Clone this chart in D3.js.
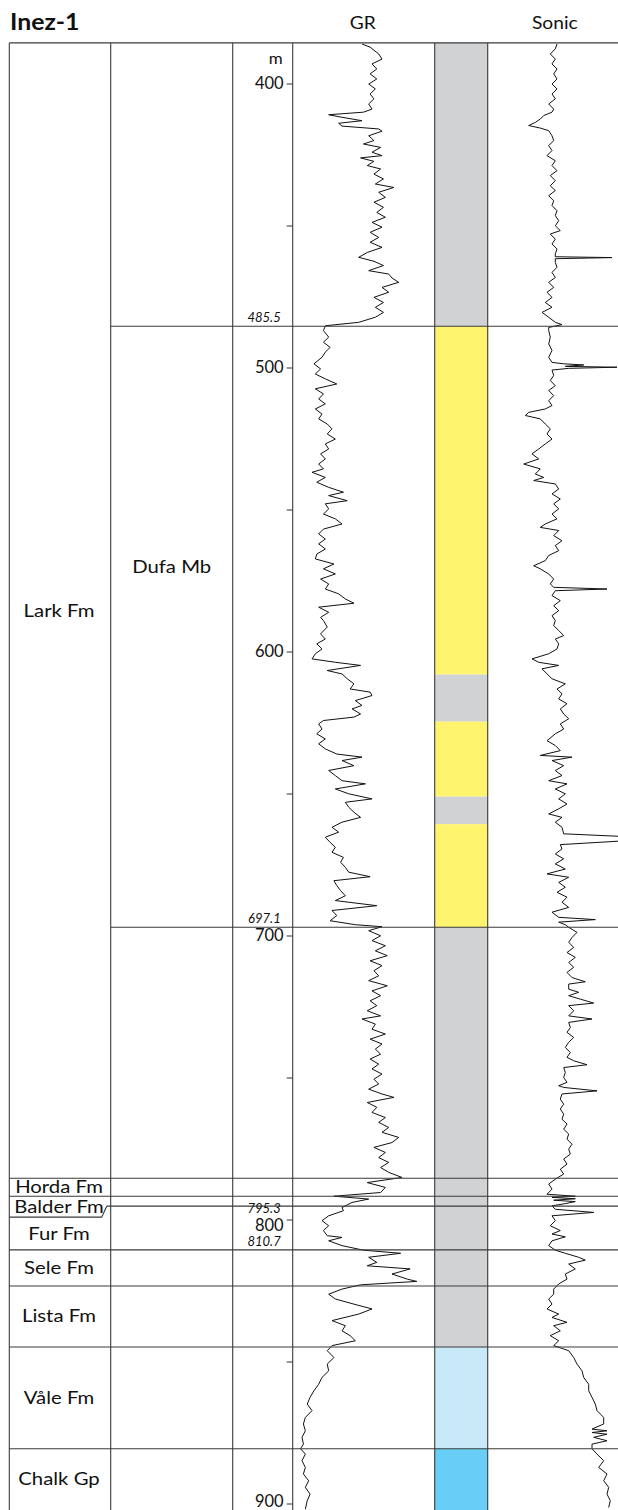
<!DOCTYPE html>
<html>
<head>
<meta charset="utf-8">
<script src="https://cdn.jsdelivr.net/npm/d3@7"></script>
<style>
  body { margin: 0; background: #fff; }
  text { font-family: Lato, "Open Sans", sans-serif; fill: #111; }
</style>
</head>
<body>
<script>
// well and depth range (m)
var wellName = "Inez-1";
var depthTop = 385.7, depthBase = 902.5;

// formations, column 1
var formationNames = ["Lark Fm", "Horda Fm", "Balder Fm", "Fur Fm", "Sele Fm", "Lista Fm", "Våle Fm", "Chalk Gp"];
var formationTops  = [385.7, 785.5, 791.8, 795.3, 810.7, 823.4, 844.9, 880.7];

// members, column 2
var memberNames = ["Dufa Mb"];
var memberTops  = [485.5];
var memberBases = [697.1];

// depths written in italic next to the depth scale
var markedDepths = [485.5, 697.1, 795.3, 810.7];
var majorTicks = [400, 500, 600, 700, 800, 900];
var minorTicks = [450, 550, 650, 750, 850];

// lithology column
var lithoTops  = [385.7, 485.5, 608.1, 624.7, 651.1, 660.8, 697.1, 844.9, 880.7];
var lithoBases = [485.5, 608.1, 624.7, 651.1, 660.8, 697.1, 844.9, 880.7, 902.5];
var lithoTypes = ["shale", "sand", "shale", "sand", "shale", "sand", "shale", "marl", "chalk"];
var lithoColors = { shale: "#d1d2d4", sand: "#fff46e", marl: "#c8e9f8", chalk: "#69cef5" };

// gamma ray, [depth m, API]
var grLog = [
  [386.1,73.5],[387.2,82],[389.6,91],[391.4,94.5],[393.1,84],[394.9,89],[396.6,82],[398.4,89],[400.2,80.5],[401.9,87.5],
  [403.7,82],[405.4,86],[407.2,80.5],[409.0,84],[410.1,75],[411.0,38.5],[411.9,52.5],[413.1,73.5],[414.0,49],[415.0,52.5],
  [416.0,91],[416.8,94.5],[418.4,80.5],[420.1,86],[421.3,75],[422.5,93],[424.2,84],[425.4,94.5],[426.2,72],[427.4,86],
  [428.9,79],[430.1,93],[431.9,86],[433.6,96],[435.4,87.5],[436.6,107],[438.3,91],[440.1,98],[441.8,86],[443.6,96],
  [445.4,89],[447.1,98],[448.9,84],[450.6,94.5],[452.4,82],[454.2,91],[455.9,82],[457.7,94.5],[459.5,79],[461.2,70],
  [462.6,86],[464.1,96],[465.9,80.5],[467.1,101.5],[468.5,105],[470.0,112],[471.8,94.5],[473.5,101.5],[475.3,86],[477.1,96],
  [478.8,87.5],[480.6,96],[482.3,87.5],[484.1,70],[485.3,35],
  [487.0,33],[489.3,38.5],[491.1,33],[492.9,40],[494.6,35],[496.4,31.5],[498.7,23],[500.5,30],[502.3,24.5],[504.0,35],
  [505.8,47],[507.5,24.5],[509.3,33],[511.1,28],[512.8,35],[514.6,24.5],[516.4,31.5],[518.1,28],[519.9,37],[521.6,42],
  [523.4,37],[525.2,45.5],[526.9,35],[528.7,38.5],[530.4,30],[532.2,35],[534.0,28],[535.7,33],[536.9,21],[538.7,35],
  [540.4,26],[542.2,38.5],[543.9,54],[545.1,38.5],[546.9,58],[548.0,35],[549.8,38.5],[551.6,33],[553.3,45.5],[555.1,52.5],
  [556.9,33],[558.6,28],[560.4,35],[562.1,28],[563.9,35],[565.7,26],[567.4,24.5],[569.2,44],[570.9,33],[572.7,45.5],
  [574.5,30],[576.2,38.5],[578.0,35],[579.7,49],[581.5,56],[583.0,65],[584.4,28],[586.2,38.5],[588.0,30],
  [589.1,33],[591.4,37],[593.8,30],[595.6,35],[597.3,26],[599.1,31.5],[600.8,24.5],[602.6,21],[603.8,45.5],[604.9,72],
  [606.7,37],[607.9,52.5],[609.6,58],[611.4,65],[613.2,61],[614.3,82],[615.5,84],[617.3,66.5],[619.0,73.5],[620.2,63],
  [622.0,72],[623.1,65],[624.3,33],[625.5,28],[627.3,31.5],[629.0,26],[630.8,35],[632.5,28],[634.3,35],[636.1,47],
  [637.2,73.5],[638.4,52.5],[640.2,65],[641.9,38.5],[643.7,45.5],[645.5,52.5],[646.6,77],[648.4,45.5],[650.1,59.5],[651.9,84],
  [653.1,56],[654.8,59.5],[656.6,65],[658.4,72],[660.1,52.5],[661.9,42],[663.6,49],[665.4,35],[667.2,40],[668.9,45.5],
  [670.7,42],[672.5,54],[674.2,51],[676.0,56],[677.7,59.5],[679.3,82],[680.7,44],[682.4,47],[684.2,51],[686.0,56],
  [687.7,45.5],[689.5,89],[691.2,42],[693.0,47],[694.8,40],[696.2,66.5],[696.9,94.5],
  [698.3,80.5],[700.1,93],[701.8,84],[703.6,98],[705.4,87.5],[707.1,100],[708.9,82],[710.6,94.5],[712.4,86],[714.2,91],
  [715.9,80.5],[717.7,100],[719.5,84],[721.2,93],[723.0,82],[724.7,89],[726.5,79],[728.3,93],[729.4,73.5],[731.2,87.5],
  [733.0,84],[734.7,98],[736.5,82],[738.2,94.5],[740.0,87.5],[741.8,93],[743.5,82],[745.3,91],[747.0,84],[748.8,94.5],
  [750.6,86],[752.3,91],[754.1,80.5],[755.8,94.5],[757.0,107],[758.8,79],[760.5,89],[762.3,84],[764.1,98],[765.8,91],
  [767.6,101.5],[769.3,94.5],[771.1,112],[772.9,105],[774.6,86],[776.4,98],[778.2,91],[779.9,101.5],[781.7,93],[783.4,101.5],
  [785.2,115.5],[787.0,79],[788.7,98],[790.5,93],[791.8,44],[792.8,80.5],[794.0,63],[795.8,52.5],
  [796.9,54],[798.7,38.5],[800.4,31.5],[802.2,38.5],[803.9,33],[805.7,37],[806.3,52.5],[807.5,38.5],[809.2,52.5],[810.8,75],
  [811.9,114],[813.3,80.5],[815.1,89],[816.3,79],[817.4,124],[819.2,105],[821.0,121],[821.8,131],[823.0,72],[824.5,52.5],
  [826.3,38.5],[828.0,45.5],[829.8,65],[831.5,84],[833.3,70],[835.6,42],[837.4,56],[839.2,52.5],[840.9,61],[842.7,66.5],
  [844.4,42],[846.2,37],[848.6,44],[850.9,37],[853.3,38.5],[855.6,31.5],[858.0,28],[860.3,23],[862.6,19],[865.0,16],
  [867.3,21],[869.7,14],[872.0,12],[874.4,14],[876.7,10.5],[879.1,12],[880.7,9],[882.6,14],[884.9,10.5],[887.3,14],
  [889.6,12],[892.0,17.5],[894.3,14],[896.7,19],[899.0,16],[902.0,14]
];

// sonic, [depth m, us/ft]
var sonicLog = [
  [386.1,110.7],[387.8,112.4],[389.6,117.4],[391.4,112.4],[393.1,115.7],[394.9,110.7],[396.6,114],[398.4,110.7],[400.2,115.7],[401.9,110.7],
  [403.7,115.7],[405.4,112.4],[407.2,119],[409.0,114],[410.1,115.7],[411.3,124],[412.5,127.4],[413.7,132.4],[414.8,139],[415.7,127.4],
  [416.6,119],[418.4,115.7],[420.1,114],[421.9,119],[423.6,115.7],[425.4,120.7],[427.2,112.4],[428.9,115.7],[430.7,110.7],[432.4,117.4],
  [434.2,112.4],[436.0,117.4],[437.7,112.4],[439.5,119],[441.3,114],[443.0,115.7],[444.8,110.7],[446.5,112.4],[448.3,109],[450.1,112.4],
  [451.8,107.4],[453.0,117.4],[454.8,112.4],[456.5,115.7],[458.3,110.7],[460.0,112.4],[461.0,112.4],[461.3,55.7],[461.7,112.4],[463.0,112.4],
  [464.7,110.7],[466.5,115.7],[468.3,112.4],[470.0,119],[471.8,114],[473.5,120.7],[475.3,115.7],[477.1,122.4],[478.8,115.7],[480.6,125.7],
  [482.3,119],[484.1,112.4],[484.9,105.7],[485.9,119],
  [487.0,119],[489.3,117.4],[491.7,119],[494.0,115.7],[496.4,119],[498.2,115.7],[498.7,104],[499.1,84],[499.6,102.4],[499.9,50.7],
  [500.3,99],[500.9,115.7],[502.8,114],[504.6,117.4],[506.4,112.4],[508.1,119],[509.9,114],[511.7,119],[513.4,115.7],[514.6,122.4],
  [515.8,139],[516.9,142.4],[518.1,127.4],[519.9,122.4],[521.6,117.4],[523.4,120.7],[525.2,115.7],[526.9,122.4],[528.7,129],[530.4,135.7],
  [532.2,129],[534.0,144],[535.7,127.4],[537.5,132.4],[538.7,124],[539.8,134],[541.0,112.4],[542.8,109],[544.5,115.7],[546.3,107.4],
  [548.0,114],[549.8,109],[551.6,115.7],[553.3,110.7],[555.1,122.4],[556.3,127.4],[557.4,109],[559.2,114],[561.0,105.7],[562.7,112.4],
  [564.5,109],[566.2,119],[568.0,122.4],[569.8,134],[570.9,127.4],[572.7,119],[574.5,114],[576.2,117.4],[577.4,114],[578.0,60.7],
  [578.6,112.4],[580.3,115.7],[582.1,107.4],[583.9,114],[585.6,109],[587.4,115.7],[589.1,112.4],
  [590.9,114],[592.6,109],[594.4,104],[595.6,112.4],[597.3,109],[599.1,110.7],[600.8,119],[602.6,135.7],[603.8,129],[604.9,109],
  [606.1,125.7],[607.9,120.7],[609.6,115.7],[611.4,102.4],[613.2,110.7],[614.9,105.7],[616.7,109],[618.4,100.7],[620.2,107.4],[622.0,104],
  [623.7,99],[625.5,107.4],[627.3,104],[629.0,112.4],[631.4,120.7],[633.1,112.4],[634.9,107.4],[636.6,127.4],[637.2,95.7],[638.4,115.7],
  [640.2,104],[641.9,112.4],[643.7,105.7],[645.5,119],[646.6,100.7],[648.4,112.4],[650.1,102.4],[651.9,109],[653.7,100.7],[655.4,109],
  [657.2,119],[658.4,105.7],[660.1,112.4],[661.9,105.7],[664.2,104],[665.2,40],[666.6,40],[668.0,107.4],[669.5,105.7],[671.3,112.4],
  [673.0,104],[674.8,112.4],[676.6,102.4],[678.3,120.7],[679.5,99],[681.3,109],[683.0,102.4],[684.8,110.7],[686.5,100.7],[688.3,105.7],
  [690.1,99],[691.8,115.7],[693.6,109],[694.4,72.4],[695.3,109],[696.2,102.4],
  [697.1,99],[698.9,90.7],[700.7,95.7],[702.4,99],[704.2,94],[706.0,100.7],[707.7,92.4],[709.5,99],[711.2,94],[713.0,100.7],
  [714.8,95.7],[716.3,82.4],[717.1,99],[718.9,99],[720.0,89],[721.2,99],[722.4,87.4],[723.8,74],[724.7,99],[726.5,94],
  [728.3,99],[729.4,75.7],[730.6,99],[732.4,97.4],[734.1,100.7],[735.9,94],[737.6,99],[739.4,102.4],[741.2,97.4],[742.9,100.7],
  [744.1,94],[745.5,80.7],[746.5,104],[748.2,102.4],[750.0,104],[751.7,100.7],[752.9,109],[753.5,104],[754.7,70.7],[755.8,105.7],
  [757.6,107.4],[759.4,104],[761.1,107.4],[762.9,104],[764.7,105.7],[766.4,100.7],[768.2,104],[769.9,99],[771.7,100.7],[773.5,95.7],
  [775.2,99],[777.0,97.4],[778.7,104],[780.5,100.7],[782.3,107.4],[784.0,104],[785.8,112.4],[787.5,119],[789.3,115.7],[791.1,120.7],
  [791.8,92.4],[792.2,115.7],[792.7,92.4],[793.2,114],[793.7,92.4],[794.4,102.4],[795.2,115.7],[796.4,112.4],[797.5,74],
  [798.7,115.7],[800.4,112.4],[802.2,117.4],[803.9,107.4],[805.1,115.7],[806.1,102.4],[807.5,115.7],[809.2,119],[810.8,112.4],[811.9,102.4],
  [813.3,89],[814.3,82.4],[815.7,99],[817.4,92.4],[819.2,102.4],[821.0,100.7],[822.7,109],[824.5,114],[826.3,114],[828.0,119],
  [829.8,115.7],[831.5,120.7],[833.3,109],[834.5,115.7],[836.2,100.7],[837.4,114],[839.2,107.4],[840.9,117.4],[842.7,109],[844.4,114],
  [846.2,99],[848.6,94],[850.9,90.7],[853.3,85.7],[855.6,84],[858.0,79],[860.3,79],[862.6,75.7],[865.0,72.4],[867.3,70.7],
  [869.7,64],[872.0,64],[873.8,75.7],[874.4,60.7],[875.0,75.7],[875.6,60.7],[876.7,74],[877.9,60.7],[879.1,75.7],[880.7,75.7],
  [882.6,70.7],[884.9,64],[887.3,69],[889.6,60.7],[892.0,64],[894.3,59],[896.7,60.7],[899.0,57.4],[901.4,59]
];

var W = 618, H = 1510;
// column edges: formation | member | depth | GR | lithology | sonic
var colX = [9.3, 110.7, 232.7, 292.7, 434.7, 487.7, 618];
var wide = 1.13; // the labels in the original use a wider face than Lato

var svg = d3.select("body").append("svg")
    .attr("width", W)
    .attr("height", H);

var y = d3.scaleLinear().domain([400, 900]).range([83.5, 1503.5]);
var grX = d3.scaleLinear().domain([0, 150]).range([292, 434.9]);
var sonX = d3.scaleLinear().domain([180, 50]).range([487.7, 617.7]);

var yTop = y(depthTop);

function label(x, yy, txt, size, anchor) {
  return svg.append("text")
    .attr("transform", "translate(" + x + "," + yy + ") scale(" + wide + ",1)")
    .attr("text-anchor", anchor || "middle")
    .style("font-size", size + "px")
    .text(txt);
}

/* lithology column */
svg.append("g").selectAll("rect")
  .data(lithoTops)
  .enter().append("rect")
    .attr("x", colX[4])
    .attr("width", colX[5] - colX[4])
    .attr("y", function (d) { return y(d); })
    .attr("height", function (d, i) { return y(lithoBases[i]) - y(d); })
    .attr("fill", function (d, i) { return lithoColors[lithoTypes[i]]; });

/* curves, clipped to their tracks */
var defs = svg.append("defs");
defs.append("clipPath").attr("id", "clipGR").append("rect")
  .attr("x", colX[3]).attr("y", yTop).attr("width", colX[4] - colX[3]).attr("height", H - yTop);
defs.append("clipPath").attr("id", "clipSon").append("rect")
  .attr("x", colX[5]).attr("y", yTop).attr("width", W - colX[5]).attr("height", H - yTop);

var grLine = d3.line().x(function (d) { return grX(d[1]); }).y(function (d) { return y(d[0]); });
var sonLine = d3.line().x(function (d) { return sonX(d[1]); }).y(function (d) { return y(d[0]); });

svg.append("path").datum(grLog)
  .attr("d", grLine)
  .attr("clip-path", "url(#clipGR)")
  .attr("fill", "none").attr("stroke", "#111").attr("stroke-width", 1);

svg.append("path").datum(sonicLog)
  .attr("d", sonLine)
  .attr("clip-path", "url(#clipSon)")
  .attr("fill", "none").attr("stroke", "#111").attr("stroke-width", 1);

/* frame */
var frame = svg.append("g").attr("stroke", "#3a3a3a").attr("stroke-width", 1.1);
frame.append("line").attr("x1", colX[0]).attr("x2", W).attr("y1", yTop).attr("y2", yTop).attr("stroke-width", 1.4);
colX.slice(0, 6).forEach(function (x) {
  frame.append("line").attr("x1", x).attr("x2", x).attr("y1", yTop).attr("y2", H);
});

// formation tops across all columns
formationTops.slice(1).forEach(function (d, i) {
  var x0 = formationNames[i + 1] === "Fur Fm" ? colX[1] - 4 : colX[0];
  frame.append("line").attr("x1", x0).attr("x2", W).attr("y1", y(d)).attr("y2", y(d));
});
// member boundaries from column 2 onwards
memberTops.concat(memberBases).forEach(function (d) {
  frame.append("line").attr("x1", colX[1]).attr("x2", W).attr("y1", y(d)).attr("y2", y(d));
});

/* formation labels */
var balderBase = y(formationTops[3]) + 11;
formationNames.forEach(function (name, i) {
  var t = y(formationTops[i]);
  var b = i < formationTops.length - 1 ? y(formationTops[i + 1]) : H;
  if (name === "Balder Fm") b = balderBase;
  if (name === "Fur Fm") t = balderBase;
  label((colX[0] + colX[1]) / 2 - 1, (t + b) / 2 + 6, name, 18);
});
// Balder label box with the slanted edge
frame.append("path")
  .attr("fill", "none")
  .attr("d", "M" + colX[0] + "," + balderBase + "H" + (colX[1] - 9) +
             "L" + (colX[1] - 4) + "," + y(formationTops[3]));

/* member labels */
memberNames.forEach(function (name, i) {
  var t = y(memberTops[i]), b = y(memberBases[i]);
  label((colX[1] + colX[2]) / 2, t + (b - t) * 0.4 + 6, name, 18);
});

/* depth axis */
var axis = svg.append("g")
  .attr("transform", "translate(" + colX[3] + ",0)")
  .call(d3.axisLeft(y).tickValues(majorTicks).tickSize(6).tickPadding(3).tickFormat(d3.format("d")));
axis.select(".domain").remove();
axis.selectAll("line").attr("stroke", "#333");
axis.selectAll("text")
  .style("font-size", "16.5px").style("font-family", "Lato, 'Open Sans', sans-serif")
  .attr("dy", function (d) { return d === 800 ? "0.68em" : d === 900 ? "0.2em" : "0.32em"; });

var minor = svg.append("g")
  .attr("transform", "translate(" + colX[3] + ",0)")
  .call(d3.axisLeft(y).tickValues(minorTicks).tickSize(6).tickFormat(""));
minor.select(".domain").remove();
minor.selectAll("line").attr("stroke", "#333");

label(colX[3] - 10, 64, "m", 15, "end");

// italic depths of the boundaries
svg.append("g").selectAll("text")
  .data(markedDepths)
  .enter().append("text")
    .attr("x", colX[3] - 12)
    .attr("y", function (d) { return d === 795.3 ? y(d) + 6.5 : y(d) - 4; })
    .attr("text-anchor", "end")
    .style("font-size", "13px")
    .style("font-style", "italic")
    .text(function (d) { return d3.format(".1f")(d); });

/* header */
svg.append("text")
  .attr("transform", "translate(10,30) scale(" + wide + ",1)")
  .style("font-size", "22px").style("font-weight", "bold")
  .text(wellName);
label((colX[3] + colX[4]) / 2 - 1, 29, "GR", 17);
label((colX[5] + W) / 2 + 2, 29, "Sonic", 17);
</script>
</body>
</html>
